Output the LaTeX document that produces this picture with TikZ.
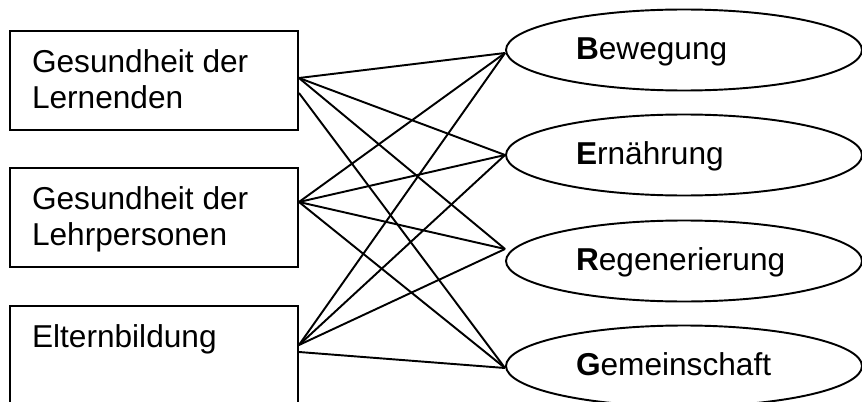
\documentclass[tikz,border=0pt]{standalone}
\usepackage{fontspec}
\setmainfont{Liberation Sans}
\usetikzlibrary{shapes.geometric}
\newcommand{\boxtxt}[1]{\parbox[c][1.22cm][t]{4.88cm}{#1}}
\tikzset{
  feld/.style={draw, line width=1.1pt, rectangle, minimum width=5.76cm, minimum height=1.98cm, inner xsep=0.44cm, inner ysep=0.38cm},
  ziel/.style={draw, line width=1.1pt, ellipse, minimum width=7.12cm, minimum height=1.62cm, text width=4.32cm, text depth=0.06cm, align=left, inner sep=0pt},
  verb/.style={line width=1.1pt}
}
\begin{document}
\begin{tikzpicture}[x=1cm,y=1cm,font=\fontsize{18}{20.5}\selectfont]
    \useasboundingbox (0,0) rectangle (17.24,8.02);
    \node[feld] (lern) at (3.08,6.41) {\boxtxt{Gesundheit der\\Lernenden}};
    \node[feld] (lehr) at (3.08,3.67) {\boxtxt{Gesundheit der\\Lehrpersonen}};
    \node[feld] (eltern) at (3.08,0.91) {\boxtxt{Elternbildung}};
    \node[ziel] (bew) at (13.68,7.02) {\textbf{B}ewegung};
    \node[ziel] (ern) at (13.68,4.92) {\textbf{E}rnährung};
    \node[ziel] (reg) at (13.68,2.80) {\textbf{R}egenerierung};
    \node[ziel] (gem) at (13.68,0.70) {\textbf{G}emeinschaft};
    \draw[verb] ([yshift=0.05cm]lern.east) -- ([yshift=-0.06cm]bew.west);
    \draw[verb] ([yshift=0.05cm]lern.east) -- (ern.west);
    \draw[verb] ([yshift=0.05cm]lern.east) -- ([yshift=0.24cm]reg.west);
    \draw[verb] ([yshift=-0.25cm]lern.east) -- ([yshift=-0.04cm]gem.west);
    \draw[verb] ([yshift=0.31cm]lehr.east) -- ([yshift=-0.06cm]bew.west);
    \draw[verb] ([yshift=0.31cm]lehr.east) -- (ern.west);
    \draw[verb] ([yshift=0.31cm]lehr.east) -- ([yshift=0.24cm]reg.west);
    \draw[verb] ([yshift=0.31cm]lehr.east) -- ([yshift=-0.04cm]gem.west);
    \draw[verb] ([yshift=0.21cm]eltern.east) -- ([yshift=-0.06cm]bew.west);
    \draw[verb] ([yshift=0.21cm]eltern.east) -- (ern.west);
    \draw[verb] ([yshift=0.21cm]eltern.east) -- ([yshift=0.24cm]reg.west);
    \draw[verb] ([yshift=0.07cm]eltern.east) -- ([yshift=-0.04cm]gem.west);
  \end{tikzpicture}
\end{document}
